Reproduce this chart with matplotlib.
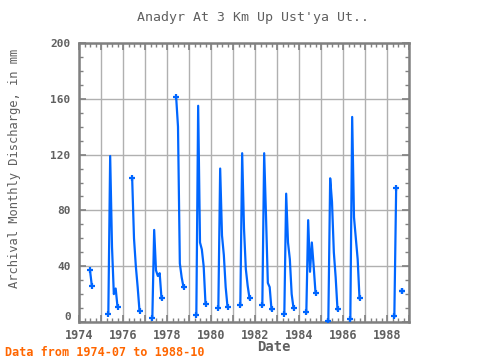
import matplotlib
matplotlib.use("Agg")
import matplotlib.pyplot as plt
from matplotlib.ticker import MultipleLocator
import numpy as np

# each season: first month and the monthly values (mm) that follow it
season_starts = ["1974-07", "1975-05", "1976-06", "1977-05", "1978-06", "1979-05",
                 "1980-05", "1981-05", "1982-05", "1983-05", "1984-05", "1985-05",
                 "1986-05", "1988-05", "1988-09"]
season_values = [
    [37, 26],
    [6, 119, 54, 20, 24, 11],
    [103, 60, 40, 25, 8],
    [3, 66, 37, 33, 35, 17],
    [161, 140, 42, 32, 25],
    [5, 155, 57, 52, 40, 13],
    [10, 110, 62, 48, 25, 11],
    [12, 121, 67, 38, 26, 17],
    [12, 121, 76, 28, 25, 9],
    [6, 92, 57, 45, 20, 10],
    [7, 73, 36, 57, 40, 21],
    [1, 103, 86, 50, 32, 9],
    [2, 147, 75, 60, 45, 17],
    [4, 96],
    [22],
]
y_ticks = [0, 40, 80, 120, 160, 200]

title = "Anadyr At 3 Km Up Ust'ya Ut.."
ylabel = "Archival Monthly Discharge, in mm"
note = "Data from 1974-07 to 1988-10"

blue = "#0066ff"
gray = "#808080"
txt = "#606060"
mono = "DejaVu Sans Mono"

fig = plt.figure(figsize=(4.8, 3.6), dpi=100)
ax = fig.add_axes([79 / 480, 1 - 322 / 360, 330 / 480, 279 / 360])

for start, vals in zip(season_starts, season_values):
    y0, m0 = int(start[:4]), int(start[5:])
    x = y0 + (m0 - 1 + np.arange(len(vals))) / 12.0
    ax.plot(x, vals, color=blue, lw=1.6, zorder=3)
    ends = [0, len(vals) - 1]
    ax.plot(x[ends], np.array(vals)[ends], ls="none", marker="+", ms=4,
            mew=1.6, color=blue, zorder=4)

ax.set_xlim(1974, 1989)
ax.set_ylim(0, 200)
ax.xaxis.set_minor_locator(MultipleLocator(0.25))
ax.yaxis.set_minor_locator(MultipleLocator(10))
ax.set_xticks(range(1974, 1990))
ax.set_xticklabels([str(y) if y % 2 == 0 else "" for y in range(1974, 1990)])
# the "0" label is drawn by hand a little above the axis line
ax.set_yticks(y_ticks)
ax.set_yticklabels([""] + [str(v) for v in y_ticks[1:]])
ax.grid(True, which="major", color="#b0b0b0", lw=1)
ax.set_axisbelow(True)

ax.tick_params(which="both", direction="in", top=True, right=True, colors=gray,
               labelcolor=txt)
ax.tick_params(axis="x", labelsize=8.5, pad=5)
ax.tick_params(axis="y", labelsize=8, pad=6)
ax.tick_params(which="major", length=5, width=1.2)
ax.tick_params(which="minor", length=3, width=1)
for lbl in ax.get_xticklabels() + ax.get_yticklabels():
    lbl.set_family(mono)
    lbl.set_fontweight("bold")
ax.annotate(str(y_ticks[0]), xy=(0, y_ticks[0]), xycoords=("axes fraction", "data"),
            xytext=(-8, 5), textcoords="offset pixels", ha="right", va="center",
            family=mono, fontweight="bold", fontsize=8, color=txt)

for sp in ax.spines.values():
    sp.set_color(gray)
    sp.set_linewidth(1.8)

fig.text(253 / 480, 1 - 17 / 360, title, ha="center", va="center",
         family=mono, fontsize=9.5, color=txt)
fig.text(15 / 480, 1 - 168 / 360, ylabel, rotation=90, ha="center", va="center",
         family=mono, fontsize=8.7, color=txt)
fig.text(274 / 480, 1 - 347 / 360, "Date", ha="center", va="center",
         family=mono, fontsize=10, fontweight="bold", color=txt)
fig.text(5 / 480, 1 - 352 / 360, note, ha="left", va="center",
         family=mono, fontsize=8.5, fontweight="bold", color="#ff6600")

fig.savefig("out.png", dpi=100)
